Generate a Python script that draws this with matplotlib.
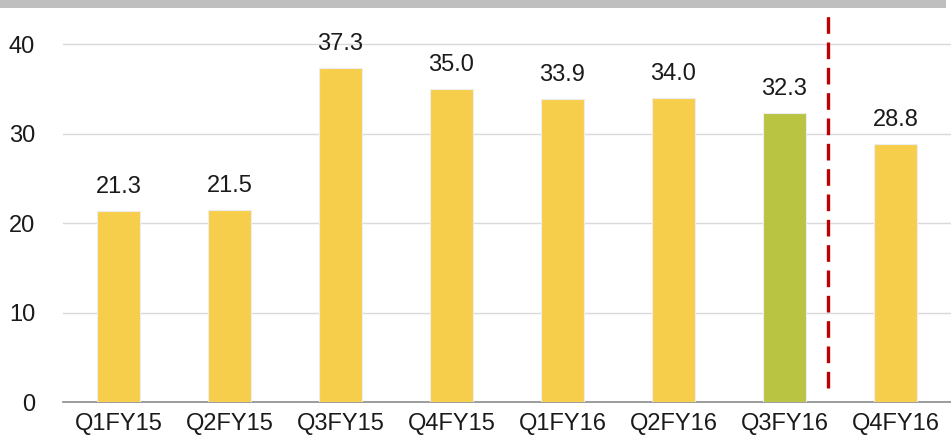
import matplotlib.pyplot as plt
from matplotlib.patches import Rectangle

plt.rcParams['font.family'] = ['Liberation Sans', 'DejaVu Sans']

# data
quarters = ['Q1FY15', 'Q2FY15', 'Q3FY15', 'Q4FY15', 'Q1FY16', 'Q2FY16', 'Q3FY16', 'Q4FY16']
values = [21.3, 21.5, 37.3, 35.0, 33.9, 34.0, 32.3, 28.8]
highlight = 'Q3FY16'

yellow = '#F7CE4B'
green = '#BAC443'
colors = [green if q == highlight else yellow for q in quarters]

fig = plt.figure(figsize=(9.51, 4.40), dpi=100)
ax = fig.add_axes([63 / 951, 38 / 440, 888 / 951, 390 / 440])

x = list(range(len(quarters)))
bars = ax.bar(x, values, width=0.39, color=colors, edgecolor='#EDEDED', linewidth=0.8, zorder=3)

# value labels above each bar
for xi, v in zip(x, values):
    ax.annotate(f'{v:.1f}', (xi, v), xytext=(0, 13), textcoords='offset points',
                ha='center', va='baseline', fontsize=17, color='#1a1a1a')

ax.set_xlim(-0.5, len(quarters) - 0.5)
ax.set_ylim(0, 43.6)
ax.set_yticks([0, 10, 20, 30, 40])
ax.set_xticks(x)
ax.set_xticklabels(quarters)
ax.tick_params(axis='both', length=0, labelsize=17, colors='#1a1a1a')
ax.tick_params(axis='y', pad=20)
ax.tick_params(axis='x', pad=8)

ax.grid(axis='y', color='#D9D9D9', linewidth=1, zorder=0)
for s in ['top', 'right', 'left']:
    ax.spines[s].set_visible(False)
ax.spines['bottom'].set_color('#8C8C8C')
ax.spines['bottom'].set_linewidth(1.2)

# separator between actual and estimate
ax.axvline(6.39, ymin=0.035, ymax=1.0, color='#C00000', linewidth=2.4,
           linestyle=(0, (5, 2.6)), zorder=4, clip_on=False)

# grey band on top
fig.patches.append(Rectangle((0, 1 - 8 / 440), 946 / 951, 8 / 440, transform=fig.transFigure,
                             facecolor='#BFBFBF', edgecolor='none'))

fig.savefig('out.png', dpi=100)
